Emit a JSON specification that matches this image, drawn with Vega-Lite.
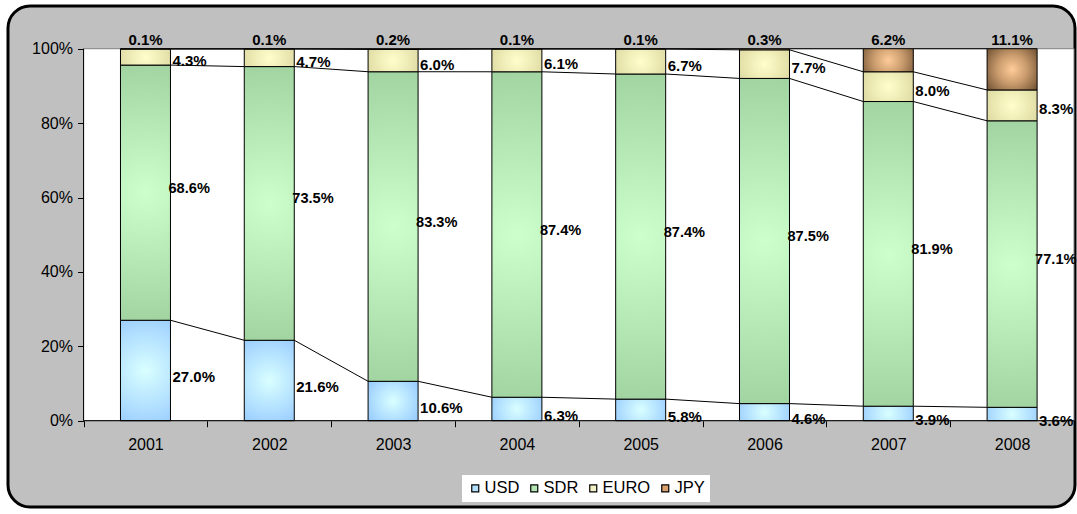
{
  "$schema": "https://vega.github.io/schema/vega-lite/v6.json",
  "width": 1067,
  "height": 501,
  "autosize": {"type": "none"},
  "padding": {"left": 8, "top": 6, "right": 2, "bottom": 7},
  "background": "white",
  "config": {
    "view": {"fill": "#c0c0c0", "stroke": "#000000", "strokeWidth": 3, "cornerRadius": 22},
    "font": "Liberation Sans",
    "axis": {"labelFont": "Liberation Sans", "labelColor": "#000000", "tickColor": "#000000", "grid": false, "domain": false, "title": null}
  },
  "data": {
    "values": [
      {"year": 2001, "series": "USD", "value": 0.270},
      {"year": 2001, "series": "SDR", "value": 0.686},
      {"year": 2001, "series": "EURO", "value": 0.043},
      {"year": 2001, "series": "JPY", "value": 0.001},
      {"year": 2002, "series": "USD", "value": 0.216},
      {"year": 2002, "series": "SDR", "value": 0.735},
      {"year": 2002, "series": "EURO", "value": 0.047},
      {"year": 2002, "series": "JPY", "value": 0.001},
      {"year": 2003, "series": "USD", "value": 0.106},
      {"year": 2003, "series": "SDR", "value": 0.833},
      {"year": 2003, "series": "EURO", "value": 0.060},
      {"year": 2003, "series": "JPY", "value": 0.002},
      {"year": 2004, "series": "USD", "value": 0.063},
      {"year": 2004, "series": "SDR", "value": 0.874},
      {"year": 2004, "series": "EURO", "value": 0.061},
      {"year": 2004, "series": "JPY", "value": 0.001},
      {"year": 2005, "series": "USD", "value": 0.058},
      {"year": 2005, "series": "SDR", "value": 0.874},
      {"year": 2005, "series": "EURO", "value": 0.067},
      {"year": 2005, "series": "JPY", "value": 0.001},
      {"year": 2006, "series": "USD", "value": 0.046},
      {"year": 2006, "series": "SDR", "value": 0.875},
      {"year": 2006, "series": "EURO", "value": 0.077},
      {"year": 2006, "series": "JPY", "value": 0.003},
      {"year": 2007, "series": "USD", "value": 0.039},
      {"year": 2007, "series": "SDR", "value": 0.819},
      {"year": 2007, "series": "EURO", "value": 0.080},
      {"year": 2007, "series": "JPY", "value": 0.062},
      {"year": 2008, "series": "USD", "value": 0.036},
      {"year": 2008, "series": "SDR", "value": 0.771},
      {"year": 2008, "series": "EURO", "value": 0.083},
      {"year": 2008, "series": "JPY", "value": 0.111}
    ]
  },
  "transform": [
    {"calculate": "indexof(['USD','SDR','EURO','JPY'], datum.series)", "as": "rank"},
    {"stack": "value", "groupby": ["year"], "offset": "normalize", "sort": [{"field": "rank", "order": "ascending"}], "as": ["v0", "v1"]},
    {"calculate": "(datum.v0 + datum.v1) / 2", "as": "mid"}
  ],
  "resolve": {"axis": {"x": "independent"}},
  "layer": [
    {
      "data": {"values": [{}]},
      "mark": {"type": "rect", "fill": "white", "stroke": "#808080", "strokeWidth": 1},
      "encoding": {
        "x": {"datum": 2000.5, "type": "quantitative",
              "scale": {"domain": [1999.8896, 2008.5081], "nice": false, "zero": false, "padding": 0},
              "axis": {"orient": "bottom", "values": [2000.5, 2001.5, 2002.5, 2003.5, 2004.5, 2005.5, 2006.5, 2007.5, 2008.5], "labels": false, "ticks": true, "tickSize": 6, "offset": -86.3}},
        "x2": {"datum": 2008.5},
        "y": {"datum": 0, "type": "quantitative",
              "scale": {"domain": [-0.232, 1.1148], "nice": false, "zero": false, "padding": 0},
              "axis": {"orient": "left", "values": [0, 0.2, 0.4, 0.6, 0.8, 1], "format": ".0%", "labelFontSize": 16, "tickSize": 6, "labelPadding": 5, "offset": -75.5}},
        "y2": {"datum": 1}
      }
    },
    {
      "mark": {"type": "point", "shape": "square", "filled": true, "size": 4, "opacity": 1},
      "encoding": {
        "x": {"field": "year", "type": "quantitative", "axis": null},
        "y": {"field": "mid", "type": "quantitative"},
        "color": {
          "field": "series", "type": "nominal",
          "scale": {"domain": ["USD", "SDR", "EURO", "JPY"], "range": ["#b3e0ff", "#b3e6b3", "#f2f0c4", "#d9a070"]},
          "legend": {"orient": "none", "legendX": 454, "legendY": 469, "direction": "horizontal", "title": null, "fillColor": "white", "padding": 5, "symbolType": "square", "symbolSize": 49, "symbolStrokeColor": "#000000", "symbolStrokeWidth": 1.2, "labelFontSize": 16.5, "labelFont": "Liberation Sans", "labelColor": "#000000", "columnPadding": 6, "labelOffset": 1}
        }
      }
    },
    {
      "mark": {"type": "bar", "width": 50, "stroke": "#000000", "strokeWidth": 1},
      "encoding": {
        "x": {"field": "year", "type": "quantitative",
              "axis": {"orient": "bottom", "values": [2001, 2002, 2003, 2004, 2005, 2006, 2007, 2008], "format": "d", "ticks": false, "labelFontSize": 16, "labelPadding": 16, "offset": -86.3}},
        "y": {"field": "v0", "type": "quantitative"},
        "y2": {"field": "v1"},
        "fill": {
          "condition": [
            {"test": "datum.series == 'USD'", "value": {"gradient": "radial", "x1": 0.5, "y1": 0.5, "r1": 0, "x2": 0.5, "y2": 0.5, "r2": 0.6, "stops": [{"offset": 0, "color": "#d9ffff"}, {"offset": 1, "color": "#99ccff"}]}},
            {"test": "datum.series == 'SDR'", "value": {"gradient": "radial", "x1": 0.5, "y1": 0.5, "r1": 0, "x2": 0.5, "y2": 0.5, "r2": 0.6, "stops": [{"offset": 0, "color": "#ccffcc"}, {"offset": 1, "color": "#99cc99"}]}},
            {"test": "datum.series == 'EURO'", "value": {"gradient": "radial", "x1": 0.5, "y1": 0.5, "r1": 0, "x2": 0.5, "y2": 0.5, "r2": 0.6, "stops": [{"offset": 0, "color": "#ffffcc"}, {"offset": 1, "color": "#ddd8a0"}]}}
          ],
          "value": {"gradient": "radial", "x1": 0.5, "y1": 0.5, "r1": 0, "x2": 0.5, "y2": 0.5, "r2": 0.6, "stops": [{"offset": 0, "color": "#ffcc99"}, {"offset": 0.5, "color": "#c89a6c"}, {"offset": 1, "color": "#7a5a3a"}]}
        }
      }
    },
    {
      "transform": [
        {"window": [{"op": "lead", "field": "v1", "as": "nv1"}, {"op": "lead", "field": "year", "as": "nyear"}], "groupby": ["series"], "sort": [{"field": "year", "order": "ascending"}]},
        {"filter": "datum.nyear != null"}
      ],
      "mark": {"type": "rule", "color": "#000000", "strokeWidth": 1, "xOffset": 25, "x2Offset": -25},
      "encoding": {
        "x": {"field": "year", "type": "quantitative", "axis": null},
        "x2": {"field": "nyear"},
        "y": {"field": "v1", "type": "quantitative"},
        "y2": {"field": "nv1"}
      }
    },
    {
      "transform": [{"filter": "datum.series == 'USD'"}],
      "mark": {"type": "text", "align": "left", "baseline": "middle", "dx": 27, "dy": 7, "fontWeight": "bold", "fontSize": 15, "font": "Liberation Sans", "color": "#000000"},
      "encoding": {
        "x": {"field": "year", "type": "quantitative", "axis": null},
        "y": {"field": "mid", "type": "quantitative"},
        "text": {"field": "value", "type": "quantitative", "format": ".1%"}
      }
    },
    {
      "transform": [{"filter": "datum.series == 'SDR'"}],
      "mark": {"type": "text", "align": "left", "baseline": "middle", "dx": 23, "dy": -4, "fontWeight": "bold", "fontSize": 14.6, "font": "Liberation Sans", "color": "#000000"},
      "encoding": {
        "x": {"field": "year", "type": "quantitative", "axis": null},
        "y": {"field": "mid", "type": "quantitative"},
        "text": {"field": "value", "type": "quantitative", "format": ".1%"}
      }
    },
    {
      "transform": [{"filter": "datum.series == 'EURO'"}],
      "mark": {"type": "text", "align": "left", "baseline": "middle", "dx": 27, "dy": 4, "fontWeight": "bold", "fontSize": 15, "font": "Liberation Sans", "color": "#000000"},
      "encoding": {
        "x": {"field": "year", "type": "quantitative", "axis": null},
        "y": {"field": "mid", "type": "quantitative"},
        "text": {"field": "value", "type": "quantitative", "format": ".1%"}
      }
    },
    {
      "transform": [{"filter": "datum.series == 'JPY'"}],
      "mark": {"type": "text", "align": "center", "baseline": "alphabetic", "dy": -4, "fontWeight": "bold", "fontSize": 15, "font": "Liberation Sans", "color": "#000000"},
      "encoding": {
        "x": {"field": "year", "type": "quantitative", "axis": null},
        "y": {"field": "v1", "type": "quantitative"},
        "text": {"field": "value", "type": "quantitative", "format": ".1%"}
      }
    },
    {
      "data": {"values": [{}]},
      "mark": {"type": "rule", "color": "#000000", "strokeWidth": 1},
      "encoding": {
        "x": {"datum": 2000.5, "type": "quantitative", "axis": null},
        "y": {"datum": 0, "type": "quantitative"},
        "y2": {"datum": 1}
      }
    },
    {
      "data": {"values": [{}]},
      "mark": {"type": "rule", "color": "#000000", "strokeWidth": 1},
      "encoding": {
        "x": {"datum": 2000.5, "type": "quantitative", "axis": null},
        "x2": {"datum": 2008.5},
        "y": {"datum": 0, "type": "quantitative"}
      }
    }
  ]
}
